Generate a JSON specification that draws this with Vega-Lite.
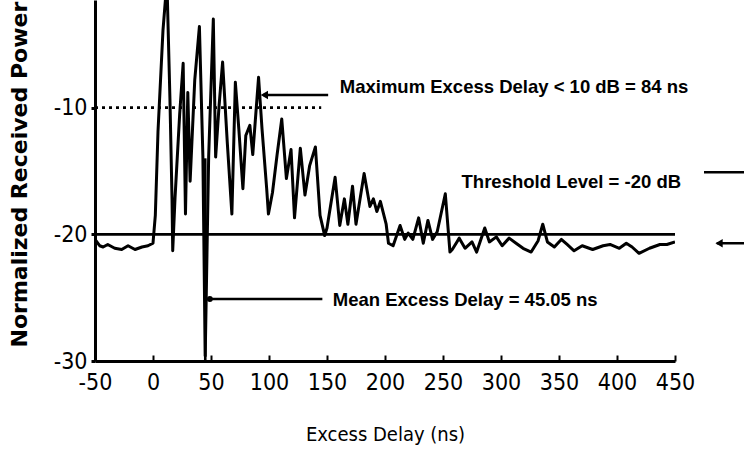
{
  "$schema": "https://vega.github.io/schema/vega-lite/v6.json",
  "width": 580,
  "height": 361,
  "autosize": "none",
  "padding": {"left": 95, "top": 0, "right": 69, "bottom": 100},
  "background": "white",
  "config": {"view": {"stroke": null}, "font": "Liberation Sans"},
  "datasets": {
    "trace": [
      {"delay": -50, "power": -20.4}, {"delay": -46, "power": -20.9}, {"delay": -43, "power": -21.0},
      {"delay": -39, "power": -20.8}, {"delay": -33, "power": -21.1}, {"delay": -27, "power": -21.2},
      {"delay": -21.5, "power": -20.9}, {"delay": -15.5, "power": -21.2}, {"delay": -9.5, "power": -21.0},
      {"delay": -4.3, "power": -20.9}, {"delay": 0, "power": -20.7}, {"delay": 2, "power": -18.5},
      {"delay": 4.3, "power": -11.9}, {"delay": 8.6, "power": -3.9}, {"delay": 12, "power": 0},
      {"delay": 14.6, "power": -9.3}, {"delay": 16.4, "power": -17.2}, {"delay": 17, "power": -21.3},
      {"delay": 19, "power": -17.1}, {"delay": 23, "power": -10.5}, {"delay": 26, "power": -6.5},
      {"delay": 28, "power": -18.4}, {"delay": 30, "power": -8.8}, {"delay": 32, "power": -15.8},
      {"delay": 36, "power": -7.8}, {"delay": 40, "power": -3.6}, {"delay": 43, "power": -13.8},
      {"delay": 45, "power": -29.6}, {"delay": 48, "power": -13.8}, {"delay": 52, "power": -3.0},
      {"delay": 54, "power": -13.9}, {"delay": 57, "power": -9.8}, {"delay": 60, "power": -6.4},
      {"delay": 64, "power": -12.7}, {"delay": 68, "power": -18.4}, {"delay": 71, "power": -8.0},
      {"delay": 74, "power": -11.7}, {"delay": 77.5, "power": -16.4}, {"delay": 80, "power": -12.2},
      {"delay": 83.5, "power": -11.4}, {"delay": 86, "power": -13.7}, {"delay": 91, "power": -7.6},
      {"delay": 94, "power": -11.7}, {"delay": 98, "power": -16.4}, {"delay": 99.5, "power": -18.4},
      {"delay": 103, "power": -16.7}, {"delay": 107, "power": -13.7}, {"delay": 111, "power": -10.9},
      {"delay": 115, "power": -15.6}, {"delay": 119, "power": -13.3}, {"delay": 122, "power": -18.7},
      {"delay": 127, "power": -13.2}, {"delay": 131, "power": -16.9}, {"delay": 135, "power": -14.6},
      {"delay": 140, "power": -13.1}, {"delay": 144, "power": -18.5}, {"delay": 148, "power": -20.1},
      {"delay": 150, "power": -19.5}, {"delay": 157, "power": -15.5}, {"delay": 161, "power": -19.3},
      {"delay": 165, "power": -17.2}, {"delay": 168, "power": -19.2}, {"delay": 172, "power": -16.2},
      {"delay": 175, "power": -19.2}, {"delay": 182, "power": -15.2}, {"delay": 187, "power": -17.8},
      {"delay": 190, "power": -17.2}, {"delay": 193, "power": -18.2}, {"delay": 196, "power": -17.4},
      {"delay": 201, "power": -19.2}, {"delay": 203, "power": -20.7}, {"delay": 207, "power": -20.9},
      {"delay": 213, "power": -19.3}, {"delay": 217, "power": -20.4}, {"delay": 220, "power": -19.9},
      {"delay": 224, "power": -20.4}, {"delay": 229, "power": -18.7}, {"delay": 233, "power": -20.7},
      {"delay": 237, "power": -18.9}, {"delay": 241, "power": -20.4}, {"delay": 245, "power": -19.8},
      {"delay": 252, "power": -16.8}, {"delay": 256, "power": -21.4}, {"delay": 258, "power": -21.2},
      {"delay": 262, "power": -20.6}, {"delay": 264, "power": -20.3}, {"delay": 269, "power": -21.1},
      {"delay": 275, "power": -20.6}, {"delay": 279, "power": -21.4}, {"delay": 286, "power": -19.5},
      {"delay": 290, "power": -20.6}, {"delay": 296, "power": -20.2}, {"delay": 301, "power": -20.9},
      {"delay": 307, "power": -20.3}, {"delay": 313, "power": -20.7}, {"delay": 319, "power": -21.1},
      {"delay": 326, "power": -21.4}, {"delay": 332, "power": -20.5}, {"delay": 336, "power": -19.2},
      {"delay": 340, "power": -20.6}, {"delay": 346, "power": -21.0}, {"delay": 352, "power": -20.4},
      {"delay": 357, "power": -20.8}, {"delay": 363, "power": -21.3}, {"delay": 370, "power": -20.9},
      {"delay": 379, "power": -21.2}, {"delay": 388, "power": -20.9}, {"delay": 394, "power": -20.8},
      {"delay": 402, "power": -21.1}, {"delay": 408, "power": -20.7}, {"delay": 413, "power": -21.0},
      {"delay": 419, "power": -21.5}, {"delay": 428, "power": -21.1}, {"delay": 437, "power": -20.8},
      {"delay": 443, "power": -20.8}, {"delay": 450, "power": -20.6}
    ],
    "solidLines": [
      {"name": "threshold", "x": -50, "x2": 450, "y": -20, "y2": -20},
      {"name": "max arrow", "x": 95, "x2": 151, "y": -9.0, "y2": -9.0},
      {"name": "mean arrow", "x": 49, "x2": 146, "y": -25.1, "y2": -25.1},
      {"name": "mean delay", "x": 45.05, "x2": 45.05, "y": -30, "y2": -14},
      {"name": "threshold label", "x": 475, "x2": 515, "y": -15.1, "y2": -15.1},
      {"name": "threshold arrow", "x": 486, "x2": 515, "y": -20.7, "y2": -20.7}
    ],
    "dottedLines": [
      {"name": "10 dB level", "x": -50, "x2": 145, "y": -10, "y2": -10}
    ],
    "arrowHeads": [
      {"name": "max arrow", "x": 96, "y": -9.0},
      {"name": "threshold arrow", "x": 488, "y": -20.7}
    ],
    "dots": [
      {"name": "mean arrow", "x": 49, "y": -25.1}
    ],
    "notes": [
      {"x": 161, "y": -8.4, "label": "Maximum Excess Delay < 10 dB = 84 ns"},
      {"x": 266, "y": -15.9, "label": "Threshold Level = -20 dB"},
      {"x": 155, "y": -25.2, "label": "Mean Excess Delay = 45.05 ns"}
    ]
  },
  "layer": [
    {
      "data": {"name": "trace"},
      "mark": {"type": "line", "color": "black", "strokeWidth": 3, "clip": true, "strokeJoin": "round"},
      "encoding": {
        "x": {
          "field": "delay", "type": "quantitative",
          "scale": {"domain": [-50, 450], "nice": false, "zero": false},
          "axis": {
            "title": "Excess Delay (ns)",
            "values": [-50, 0, 50, 100, 150, 200, 250, 300, 350, 400, 450],
            "labelExpr": "datum.value < 0 ? '-' + abs(datum.value) : '' + datum.value",
            "grid": false,
            "domainColor": "black", "domainWidth": 3,
            "tickColor": "black", "tickWidth": 2, "tickSize": -6,
            "labelFont": "DejaVu Sans Condensed, Roboto Condensed, Liberation Sans, sans-serif", "labelFontSize": 23, "labelColor": "black",
            "labelPadding": 16, "labelFlush": false,
            "titleFont": "DejaVu Sans Condensed, Roboto Condensed, Liberation Sans, sans-serif", "titleFontSize": 20, "titleFontWeight": "normal",
            "titleColor": "black", "titlePadding": 30
          }
        },
        "y": {
          "field": "power", "type": "quantitative",
          "scale": {"domain": [-30, -1.5], "nice": false, "zero": false},
          "axis": {
            "title": "Normalized Received Power",
            "values": [-30, -20, -10],
            "labelExpr": "'-' + abs(datum.value)",
            "grid": false,
            "domainColor": "black", "domainWidth": 3,
            "tickColor": "black", "tickWidth": 3, "tickSize": 4,
            "labelFont": "DejaVu Sans Condensed, Roboto Condensed, Liberation Sans, sans-serif", "labelFontSize": 23, "labelColor": "black",
            "labelPadding": 4,
            "titleFont": "DejaVu Sans", "titleFontSize": 22, "titleFontWeight": "bold",
            "titleColor": "black", "titleX": -76, "titleY": 347, "titleAlign": "left",
            "titleBaseline": "middle", "titleAngle": 270
          }
        }
      }
    },
    {
      "data": {"name": "solidLines"},
      "mark": {"type": "rule", "color": "black", "strokeWidth": 2.6},
      "encoding": {
        "x": {"field": "x", "type": "quantitative"},
        "x2": {"field": "x2"},
        "y": {"field": "y", "type": "quantitative"},
        "y2": {"field": "y2"}
      }
    },
    {
      "data": {"name": "dottedLines"},
      "mark": {"type": "rule", "color": "black", "strokeWidth": 2.6, "strokeDash": [3, 4]},
      "encoding": {
        "x": {"field": "x", "type": "quantitative"},
        "x2": {"field": "x2"},
        "y": {"field": "y", "type": "quantitative"},
        "y2": {"field": "y2"}
      }
    },
    {
      "data": {"name": "arrowHeads"},
      "mark": {"type": "point", "shape": "triangle-left", "filled": true, "color": "black", "size": 70, "opacity": 1},
      "encoding": {
        "x": {"field": "x", "type": "quantitative"},
        "y": {"field": "y", "type": "quantitative"}
      }
    },
    {
      "data": {"name": "dots"},
      "mark": {"type": "point", "shape": "circle", "filled": true, "color": "black", "size": 35, "opacity": 1},
      "encoding": {
        "x": {"field": "x", "type": "quantitative"},
        "y": {"field": "y", "type": "quantitative"}
      }
    },
    {
      "data": {"name": "notes"},
      "mark": {"type": "text", "align": "left", "baseline": "middle", "font": "Liberation Sans", "fontWeight": "bold", "fontSize": 18.5, "color": "black"},
      "encoding": {
        "x": {"field": "x", "type": "quantitative"},
        "y": {"field": "y", "type": "quantitative"},
        "text": {"field": "label"}
      }
    }
  ]
}
